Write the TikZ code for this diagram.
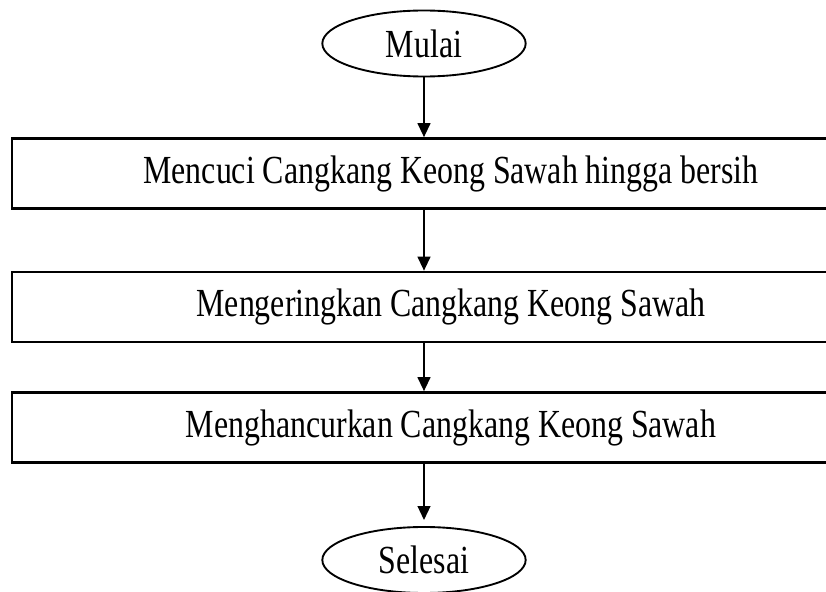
\documentclass[tikz,border=0pt]{standalone}
\usepackage{fontspec}
\setmainfont{Liberation Serif}[FakeStretch=0.8]
\usetikzlibrary{positioning,arrows.meta,shapes.geometric}

\begin{document}
\begin{tikzpicture}[x=0.03cm, y=-0.03cm,
    terminal/.style={draw, ellipse, line width=1.6pt, minimum width=6.1cm, minimum height=1.98cm, inner sep=0pt},
    process/.style={draw, rectangle, line width=2.2pt, minimum width=26.34cm, minimum height=2.1cm, inner sep=0pt},
    arr/.style={-{Triangle[length=0.42cm, width=0.38cm]}, line width=1.8pt},
    font=\fontsize{34}{40}\selectfont]
    \clip (0,0) rectangle (826,592);
    \node[terminal] (mulai) at (424,43.5) {Mulai};
    \node[process] (cuci) at (451,173.5) {Mencuci Cangkang Keong Sawah hingga bersih};
    \node[process] (kering) at (451,307) {Mengeringkan Cangkang Keong Sawah};
    \node[process] (hancur) at (451,427.5) {Menghancurkan Cangkang Keong Sawah};
    \node[terminal] (selesai) at (424,560) {Selesai};
    \draw[arr] (mulai) -- (mulai |- cuci.north);
    \draw[arr] (cuci.south -| mulai) -- (kering.north -| mulai);
    \draw[arr] (kering.south -| mulai) -- (hancur.north -| mulai);
    \draw[arr, shorten >=0.18cm] (hancur.south -| selesai) -- (selesai);
\end{tikzpicture}
\end{document}
